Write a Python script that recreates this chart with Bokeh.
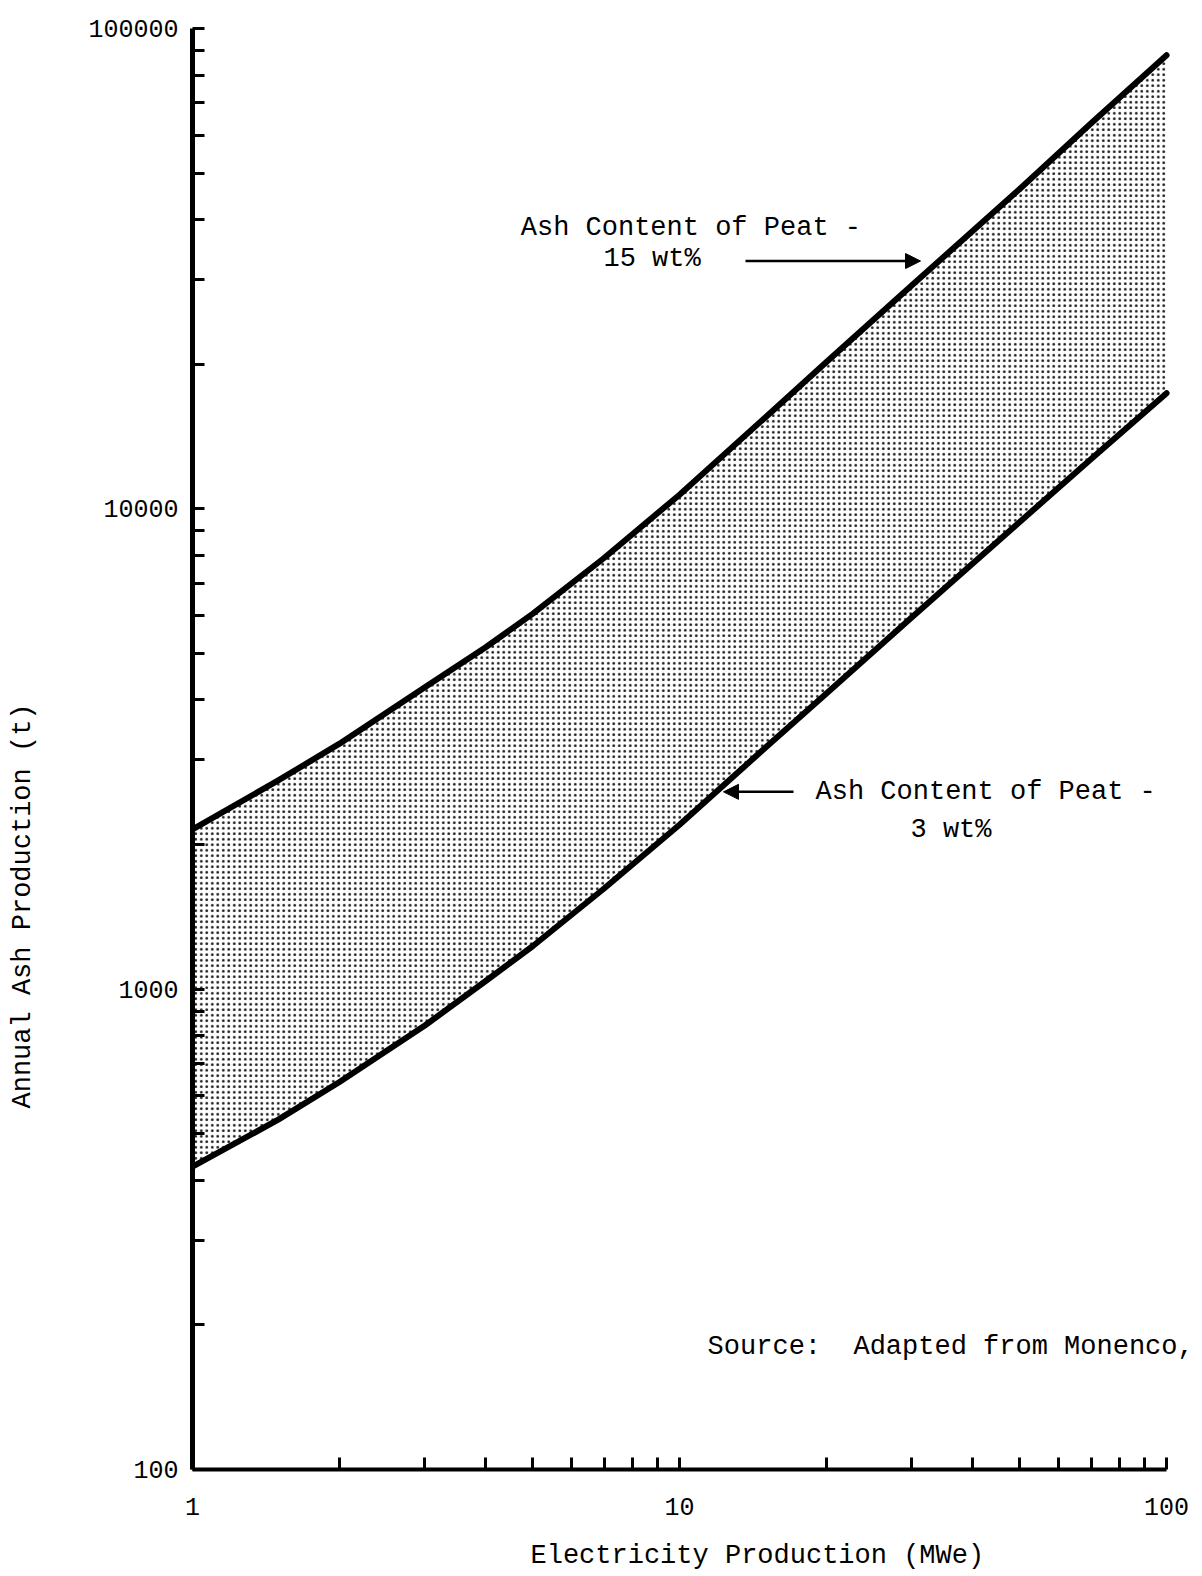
from bokeh.plotting import figure
from bokeh.models import Range1d, FixedTicker, Label, Arrow, NormalHead, Title
from bokeh.embed import file_html
from bokeh.resources import INLINE

# ---- data ----
mwe = [1, 1.5, 2, 3, 4, 5, 7, 10, 15, 20, 30, 50, 70, 100]
ash_15 = [2150, 2720, 3240, 4250, 5150, 6050, 7900, 10700, 15500, 20200, 29200, 46400, 63500, 88000]
ash_3 = [427, 535, 640, 840, 1040, 1230, 1620, 2200, 3180, 4120, 5950, 9400, 12700, 17400]

x_major = [1, 10, 100]
x_minor = [2, 3, 4, 5, 6, 7, 8, 9, 20, 30, 40, 50, 60, 70, 80, 90]
x_labels = ["1", "10", "100"]
y_major = [100, 1000, 10000, 100000]
y_minor = [200, 300, 400, 500, 600, 700, 800, 900,
           2000, 3000, 4000, 5000, 6000, 7000, 8000, 9000,
           20000, 30000, 40000, 50000, 60000, 70000, 80000, 90000]
y_labels = ["100", "1000", "10000", "100000"]

x_title = "Electricity Production (MWe)"
y_title = "Annual Ash Production (t)"

FONT = "Liberation Mono"

p = figure(width=1200, height=1574, x_axis_type="log", y_axis_type="log",
           x_range=Range1d(1, 117.4), y_range=Range1d(100, 100000),
           output_backend="svg", toolbar_location=None,
           min_border_left=192, min_border_right=0, min_border_top=28, min_border_bottom=105)
p.outline_line_color = None
p.xgrid.visible = False
p.ygrid.visible = False
p.background_fill_color = "white"
p.border_fill_color = "white"

# band between the two curves, stippled
p.varea(x=mwe, y1=ash_3, y2=ash_15, fill_color=None, fill_alpha=0,
        hatch_pattern="dot", hatch_scale=5.5, hatch_weight=1.2,
        hatch_color="black", hatch_alpha=0.9)

p.line(mwe, ash_15, line_color="black", line_width=6, line_cap="round", line_join="round")
p.line(mwe, ash_3, line_color="black", line_width=6, line_cap="round", line_join="round")

# axes
xa = p.xaxis[0]
xa.ticker = FixedTicker(ticks=x_major, minor_ticks=x_minor)
xa.major_label_overrides = {v: s for v, s in zip(x_major, x_labels)}
xa.bounds = (1, 100)
ya = p.yaxis[0]
ya.ticker = FixedTicker(ticks=y_major, minor_ticks=y_minor)
ya.major_label_overrides = {v: s for v, s in zip(y_major, y_labels)}
ya.bounds = (100, 100000)
for ax, lw in ((xa, 4), (ya, 5)):
    ax.axis_line_color = "black"
    ax.axis_line_width = lw
    ax.major_tick_in = 12
    ax.major_tick_out = 0
    ax.minor_tick_in = 12
    ax.minor_tick_out = 0
    ax.major_tick_line_width = 3
    ax.minor_tick_line_width = 3
    ax.major_tick_line_color = "black"
    ax.minor_tick_line_color = "black"
    ax.major_label_text_font = FONT
    ax.major_label_text_font_size = "25px"
    ax.major_label_text_color = "black"
xa.major_label_standoff = 28
ya.major_label_standoff = 14

# axis titles (a thin spacer between each axis and its title)
p.add_layout(Title(text=" ", standoff=16, text_font_size="1px"), "below")
p.add_layout(Title(text=x_title, align="left", offset=338, standoff=4,
                   text_font=FONT, text_font_size="27px", text_font_style="normal",
                   text_color="black"), "below")
p.add_layout(Title(text=" ", standoff=42, text_font_size="1px"), "left")
p.add_layout(Title(text=y_title, align="left", offset=361, standoff=6,
                   text_font=FONT, text_font_size="27px", text_font_style="normal",
                   text_color="black"), "left")

# annotations (data coordinates)
texts = [
    ("Ash Content of Peat -", 4.72, 38370),
    ("15 wt%", 6.98, 33080),
    ("Ash Content of Peat -", 19.02, 2575),
    ("3 wt%", 29.8, 2146),
    ("Source:\u00a0 Adapted from Monenco,", 11.42, 180.3),
]
for t, x, y in texts:
    p.add_layout(Label(x=x, y=y, text=t, text_font=FONT, text_font_size="27px",
                       text_align="left", text_baseline="middle", text_color="black"))

arrows = [(13.66, 32800, 31.25, 32800), (17.14, 2575, 12.31, 2575)]
for xs, ys, xe, ye in arrows:
    p.add_layout(Arrow(x_start=xs, y_start=ys, x_end=xe, y_end=ye, line_width=2.5,
                       line_color="black",
                       end=NormalHead(size=15, fill_color="black", line_color="black")))

open("out.html", "w").write(file_html(p, INLINE))
